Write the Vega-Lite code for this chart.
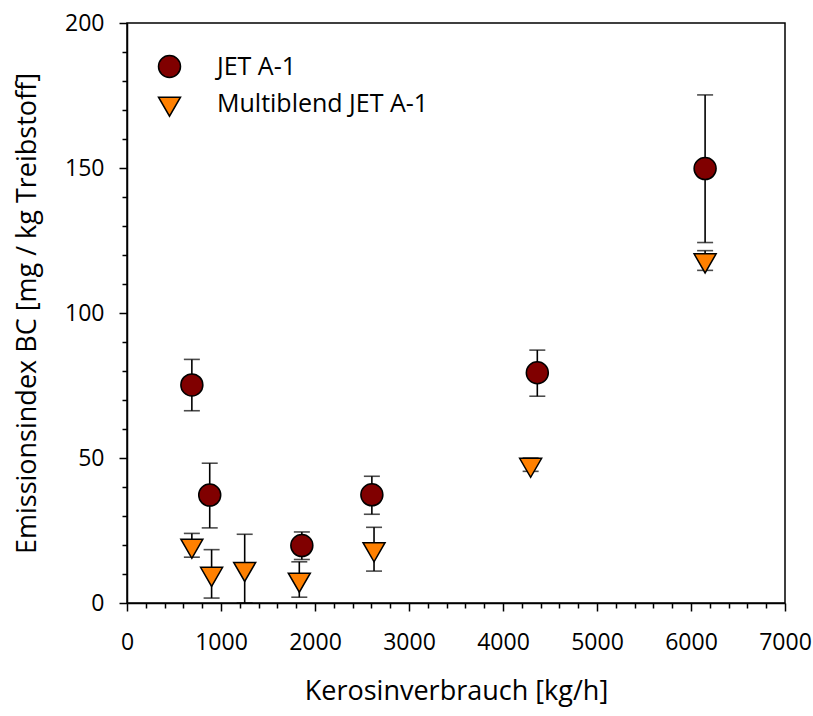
{
  "$schema": "https://vega.github.io/schema/vega-lite/v6.json",
  "width": 658,
  "height": 580,
  "autosize": {"type": "none"},
  "padding": {"left": 127, "top": 23, "right": 28, "bottom": 113},
  "background": "white",
  "config": {
    "font": "Open Sans",
    "view": {"stroke": "black", "strokeWidth": 1.5},
    "axis": {"domainColor": "black", "tickColor": "black", "labelColor": "black", "titleColor": "black", "grid": false, "domainWidth": 1.5, "tickWidth": 1.5, "labelFont": "Open Sans", "titleFont": "Open Sans", "labelFontWeight": "normal", "titleFontWeight": "normal", "labelFlush": false, "labelOverlap": false}
  },
  "data": {
    "values": [
      {"series": "JET A-1", "kerosin": 690, "bc": 75.2, "lo": 66.3, "hi": 84.0},
      {"series": "JET A-1", "kerosin": 880, "bc": 37.2, "lo": 25.9, "hi": 48.2},
      {"series": "JET A-1", "kerosin": 1860, "bc": 19.8, "lo": 15.0, "hi": 24.5},
      {"series": "JET A-1", "kerosin": 2605, "bc": 37.3, "lo": 30.6, "hi": 43.7},
      {"series": "JET A-1", "kerosin": 4365, "bc": 79.4, "lo": 71.3, "hi": 87.2},
      {"series": "JET A-1", "kerosin": 6150, "bc": 149.8, "lo": 124.3, "hi": 175.2},
      {"series": "Multiblend JET A-1", "kerosin": 690, "bc": 19.8, "lo": 15.8, "hi": 24.0},
      {"series": "Multiblend JET A-1", "kerosin": 900, "bc": 10.1, "lo": 1.7, "hi": 18.4},
      {"series": "Multiblend JET A-1", "kerosin": 1252, "bc": 11.8, "lo": 0, "hi": 23.7},
      {"series": "Multiblend JET A-1", "kerosin": 1833, "bc": 8.1, "lo": 2.0, "hi": 14.2},
      {"series": "Multiblend JET A-1", "kerosin": 2628, "bc": 18.6, "lo": 11.0, "hi": 26.1},
      {"series": "Multiblend JET A-1", "kerosin": 4294, "bc": 47.7, "lo": 45.4, "hi": 50.0},
      {"series": "Multiblend JET A-1", "kerosin": 6150, "bc": 118.2, "lo": 114.7, "hi": 121.5}
    ]
  },
  "layer": [
    {
      "mark": {"type": "errorbar", "ticks": {"size": 16, "thickness": 1.6, "color": "black"}, "rule": {"strokeWidth": 1.6, "color": "black"}, "color": "black"},
      "encoding": {
        "x": {"field": "kerosin", "type": "quantitative", "scale": {"domain": [0, 7000], "nice": false},
              "axis": {"orient": "bottom", "values": [200,400,600,800,1200,1400,1600,1800,2200,2400,2600,2800,3200,3400,3600,3800,4200,4400,4600,4800,5200,5400,5600,5800,6200,6400,6600,6800], "labels": false, "tickSize": 5, "title": null, "domain": false}},
        "y": {"field": "lo", "type": "quantitative", "scale": {"domain": [0, 200], "nice": false},
              "axis": {"orient": "left", "values": [10,20,30,40,60,70,80,90,110,120,130,140,160,170,180,190], "labels": false, "tickSize": 5, "title": null, "domain": false}},
        "y2": {"field": "hi"}
      }
    },
    {
      "mark": {"type": "point", "filled": true, "size": 484, "stroke": "black", "strokeWidth": 1.5, "opacity": 1},
      "encoding": {
        "x": {"field": "kerosin", "type": "quantitative", "scale": {"domain": [0, 7000], "nice": false},
              "axis": {"orient": "bottom", "values": [0,1000,2000,3000,4000,5000,6000,7000], "format": "d", "tickSize": 8, "labelFontSize": 23, "labelPadding": 20, "title": "Kerosinverbrauch [kg/h]", "titleFontSize": 27, "titlePadding": 24}},
        "y": {"field": "bc", "type": "quantitative", "scale": {"domain": [0, 200], "nice": false},
              "axis": {"orient": "left", "values": [0,50,100,150,200], "format": "d", "tickSize": 8, "labelFontSize": 23, "labelPadding": 15, "title": "Emissionsindex BC [mg / kg Treibstoff]", "titleFontSize": 27, "titlePadding": 23}},
        "fill": {"field": "series", "type": "nominal",
                 "scale": {"domain": ["JET A-1", "Multiblend JET A-1"], "range": ["#800000", "#FF8000"]},
                 "legend": {"title": null, "orient": "none", "legendX": 30, "legendY": 31, "padding": 0, "symbolSize": 484, "symbolStrokeColor": "black", "symbolStrokeWidth": 1.5, "labelFontSize": 25, "labelFont": "Open Sans", "labelColor": "black", "labelOffset": 35, "labelLimit": 0, "rowPadding": 10, "symbolOpacity": 1}},
        "shape": {"field": "series", "type": "nominal",
                  "scale": {"domain": ["JET A-1", "Multiblend JET A-1"], "range": ["circle", "M-1,-0.577L1,-0.577L0,1.155Z"]}}
      }
    }
  ],
  "resolve": {"scale": {"x": "independent", "y": "independent"}}
}
